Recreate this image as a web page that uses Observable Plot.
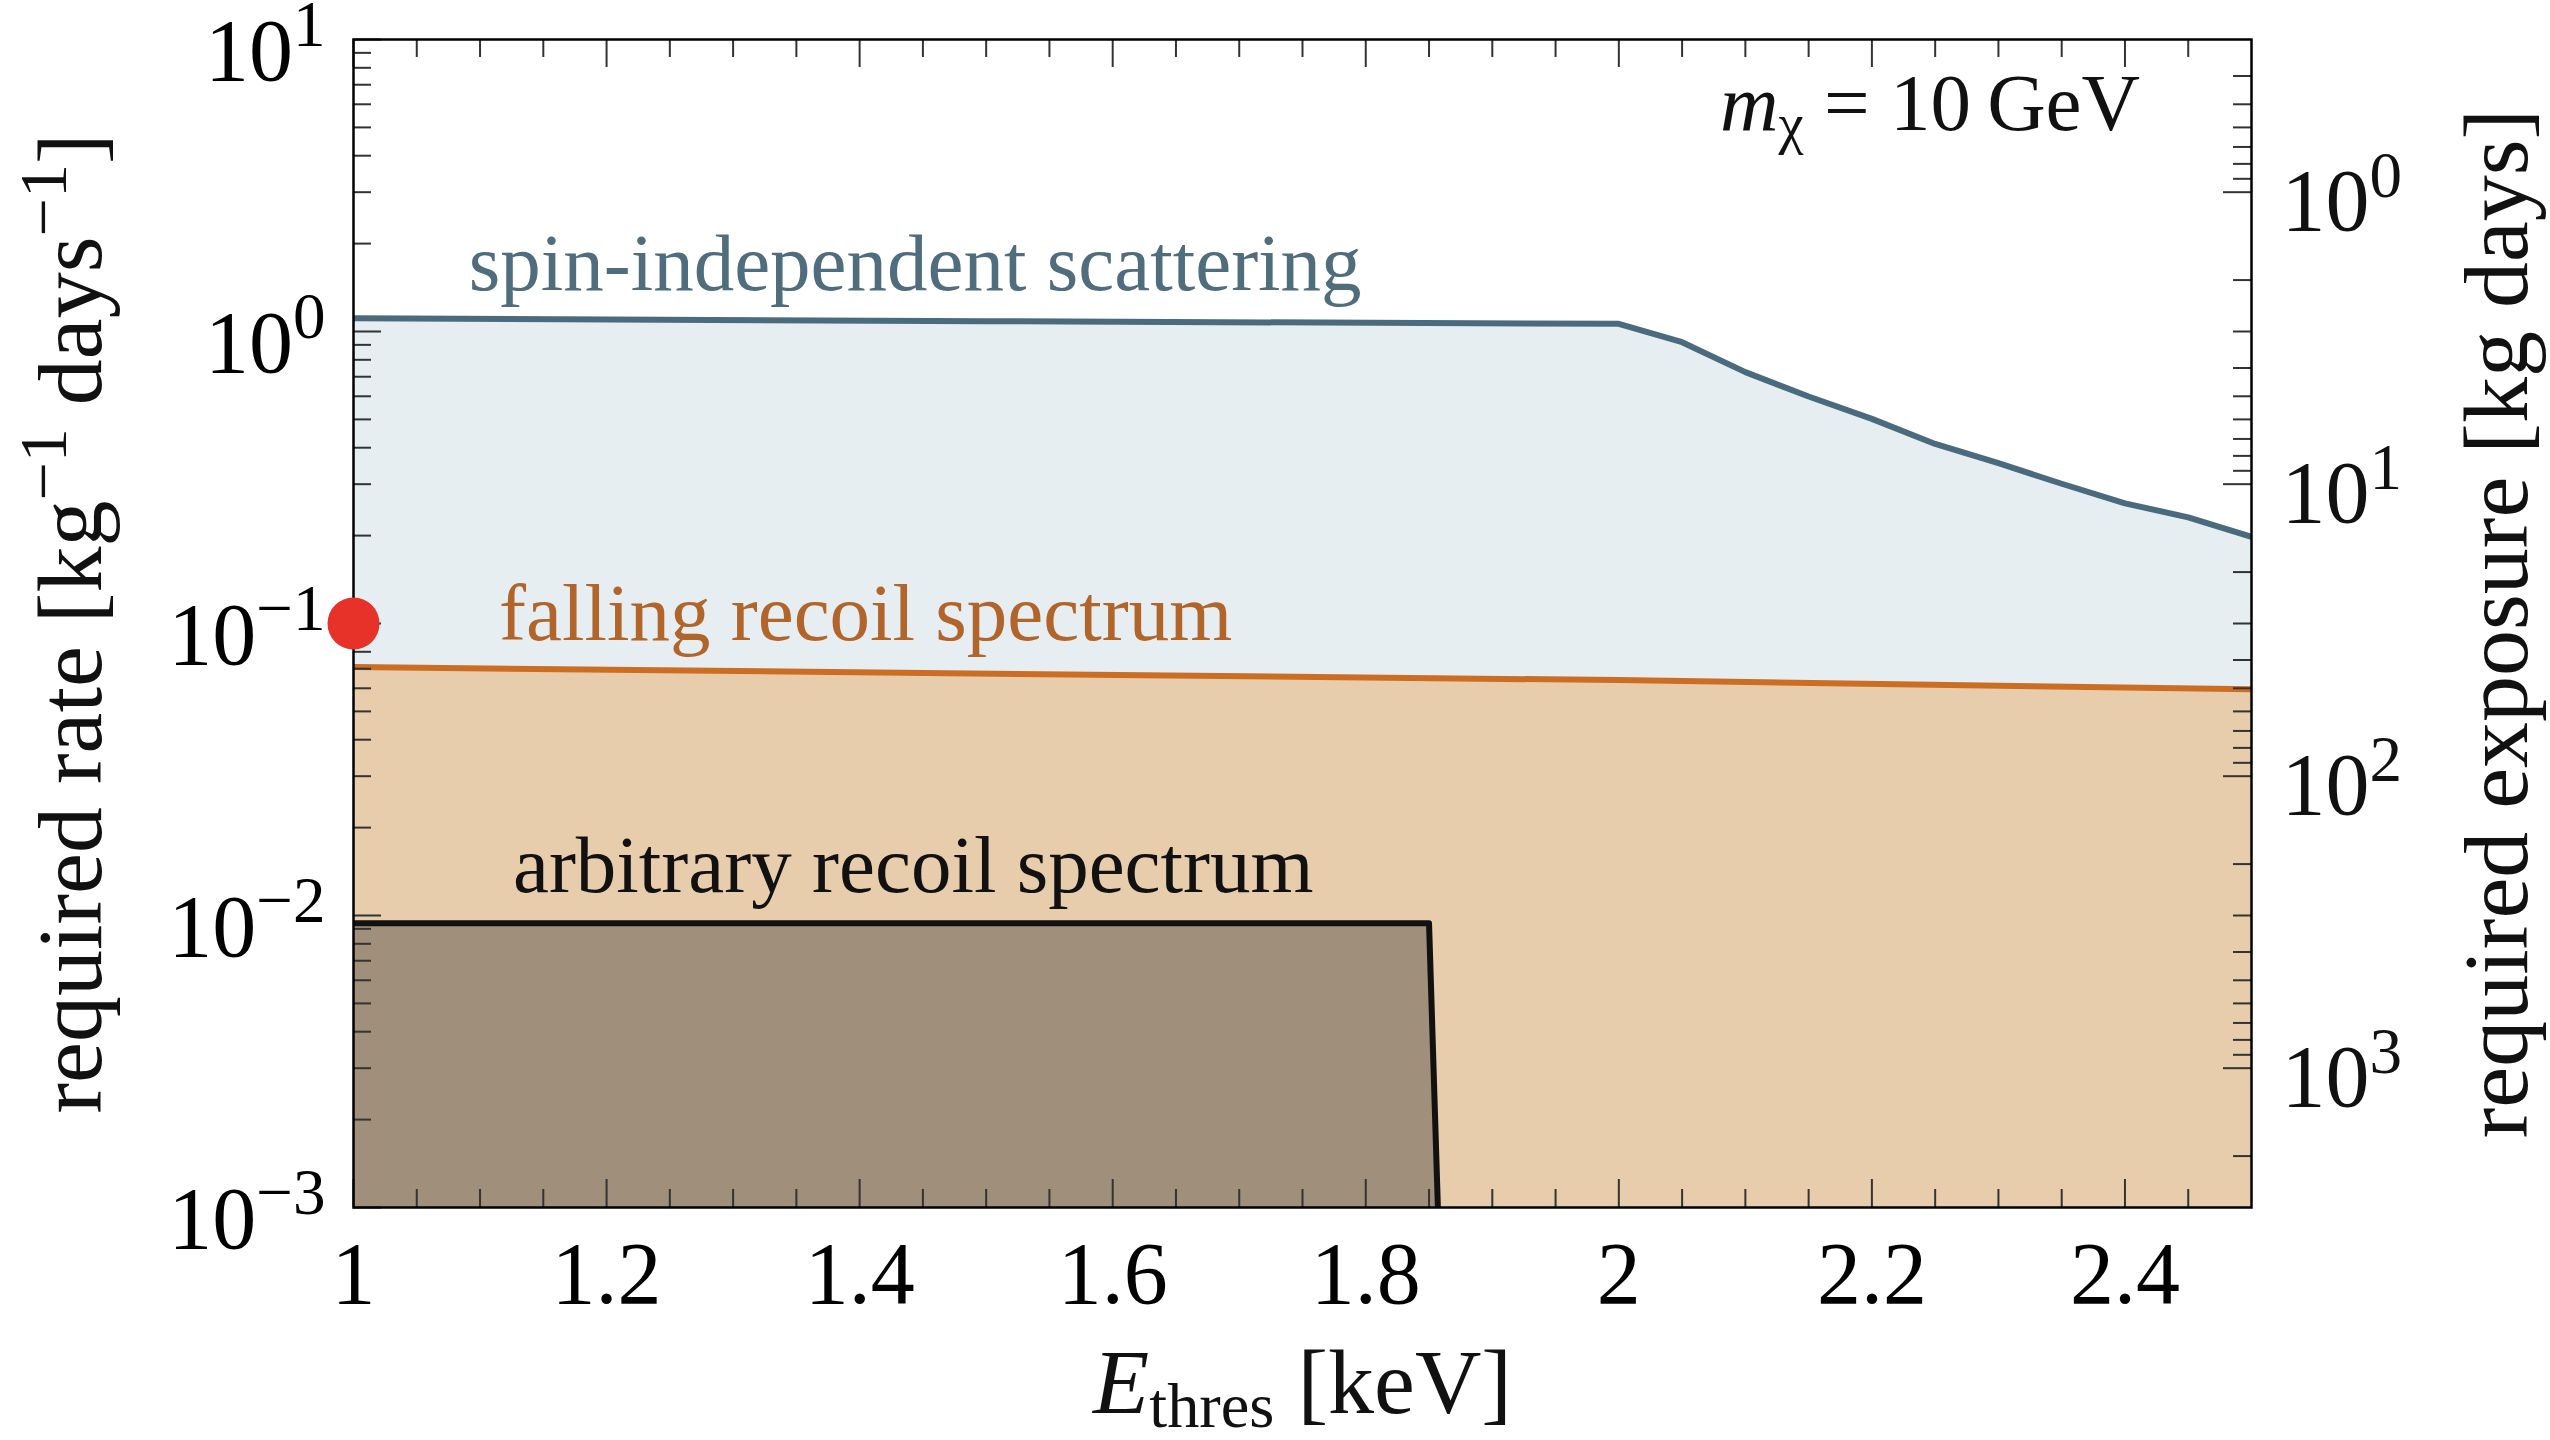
<!DOCTYPE html>
<html>
<head>
<meta charset="utf-8">
<script src="https://cdn.jsdelivr.net/npm/d3@7"></script>
<script src="https://cdn.jsdelivr.net/npm/@observablehq/plot@0.6"></script>
<style>
  html, body { margin: 0; padding: 0; background: white; }
  svg { display: block; }
</style>
</head>
<body>
<script>
// ---- data ----
// spin-independent scattering: required rate vs threshold energy
const siE    = [1.0, 1.5, 2.0, 2.05, 2.1, 2.15, 2.2, 2.25, 2.3, 2.35, 2.4, 2.45, 2.5];
const siRate = [1.11, 1.085, 1.062, 0.919, 0.726, 0.599, 0.502, 0.412, 0.354, 0.301, 0.258, 0.231, 0.198];
// falling recoil spectrum
const fallE    = [1.0, 2.0, 2.5];
const fallRate = [0.0709, 0.0640, 0.0595];
// arbitrary recoil spectrum
const arbE    = [1.0, 1.85, 1.857];
const arbRate = [0.0094, 0.0094, 0.001];
// highlighted point
const dotE = [1.0];
const dotRate = [0.1];
// events required: exposure = eventsRequired / rate
const eventsRequired = 3;

// tick values
const xTicks = [1, 1.2, 1.4, 1.6, 1.8, 2, 2.2, 2.4];
const xMinorTicks = [1.05, 1.1, 1.15, 1.25, 1.3, 1.35, 1.45, 1.5, 1.55, 1.65, 1.7, 1.75, 1.85, 1.9, 1.95, 2.05, 2.1, 2.15, 2.25, 2.3, 2.35, 2.45];
const yDecades = [1e-3, 1e-2, 1e-1, 1, 10];
const yMinorTicks = [1e-3, 1e-2, 1e-1, 1].flatMap(d => [2,3,4,5,6,7,8,9].map(m => m * d));
const expDecades = [1, 10, 100, 1000];
const expMinorTicks = [0.4,0.5,0.6,0.7,0.8,0.9, 2,3,4,5,6,7,8,9, 20,30,40,50,60,70,80,90, 200,300,400,500,600,700,800,900, 2000];

// text
const annText = ["spin-independent scattering", "falling recoil spectrum", "arbitrary recoil spectrum", "*m*_{χ} = 10\u2009GeV"];
const annE    = [1.091, 1.115, 1.126, 2.080];
const annRate = [1.39, 0.0881, 0.01208, 4.88];
const xTitle = "*E*_{thres} [keV]";
const yTitle = "required rate [kg^{−1} days^{−1}]";
const y2Title = "required exposure [kg days]";

// ---- layout ----
const W = 2550, H = 1440;
const mL = 353, mR = 299, mT = 39, mB = 233;
const fw = W - mL - mR, fh = H - mT - mB;

const pow10 = e => `10^{${e < 0 ? "−" : ""}${Math.abs(e)}}`;
const rows = (xs, ys) => xs.map((x, i) => ({x, y: ys[i]}));

const si = rows(siE, siRate), fall = rows(fallE, fallRate), arb = rows(arbE, arbRate);
const tickColor = "#333";

const plot = Plot.plot({
  width: W, height: H,
  marginLeft: mL, marginRight: mR, marginTop: mT, marginBottom: mB,
  style: {fontFamily: "'Liberation Serif', 'DejaVu Serif', serif", fontSize: "88px", background: "white", color: "black"},
  x: {domain: [1, 2.5]},
  y: {type: "log", domain: [1e-3, 10]},
  marks: [
    Plot.areaY(si, {x: "x", y1: 1e-3, y2: "y", fill: "#e6eef2", clip: true}),
    Plot.areaY(fall, {x: "x", y1: 1e-3, y2: "y", fill: "#e8cdac", clip: true}),
    Plot.areaY(arb, {x: "x", y1: 1e-3, y2: "y", fill: "#a08f7a", clip: true}),
    Plot.line(si, {x: "x", y: "y", stroke: "#4a6b7d", strokeWidth: 6, clip: true}),
    Plot.line(fall, {x: "x", y: "y", stroke: "#cc6d24", strokeWidth: 6, clip: true}),
    Plot.line(arb, {x: "x", y: "y", stroke: "#111", strokeWidth: 6, clip: true}),
    // inward ticks: bottom & top
    Plot.tickX(xTicks, {x: d => d, insetTop: fh - 28, stroke: tickColor, strokeWidth: 2}),
    Plot.tickX(xMinorTicks, {x: d => d, insetTop: fh - 18, stroke: tickColor, strokeWidth: 2}),
    Plot.tickX(xTicks, {x: d => d, insetBottom: fh - 28, stroke: tickColor, strokeWidth: 2}),
    Plot.tickX(xMinorTicks, {x: d => d, insetBottom: fh - 18, stroke: tickColor, strokeWidth: 2}),
    // left ticks
    Plot.tickY(yDecades, {y: d => d, insetRight: fw - 28, stroke: tickColor, strokeWidth: 2}),
    Plot.tickY(yMinorTicks, {y: d => d, insetRight: fw - 18, stroke: tickColor, strokeWidth: 2}),
    // right ticks (exposure)
    Plot.tickY(expDecades, {y: d => eventsRequired / d, insetLeft: fw - 28, stroke: tickColor, strokeWidth: 2}),
    Plot.tickY(expMinorTicks, {y: d => eventsRequired / d, insetLeft: fw - 18, stroke: tickColor, strokeWidth: 2}),
    // axes labels
    Plot.axisX({ticks: xTicks, tickSize: 0, tickPadding: 33, label: null, tickFormat: d => String(+d.toFixed(1))}),
    Plot.axisY({ticks: yDecades, tickSize: 0, tickPadding: 28, label: null, dy: 12,
      tickFormat: d => pow10(Math.round(Math.log10(d)))}),
    // right axis labels (exposure = eventsRequired / rate)
    Plot.text(expDecades, {y: d => eventsRequired / d, frameAnchor: "right", dx: 30, dy: 10,
      textAnchor: "start", lineAnchor: "middle", fill: "#111",
      text: d => pow10(Math.round(Math.log10(d)))}),
    Plot.frame({stroke: "black", strokeWidth: 2.5}),
    Plot.dot(rows(dotE, dotRate), {x: "x", y: "y", r: 26, fill: "#e63228"}),
    // annotations
    Plot.text([0], {x: annE[0], y: annRate[0], text: () => annText[0], textAnchor: "start", lineAnchor: "bottom", fontSize: 81, fill: "#4f6d7c"}),
    Plot.text([0], {x: annE[1], y: annRate[1], text: () => annText[1], textAnchor: "start", lineAnchor: "bottom", fontSize: 81, fill: "#b1652b"}),
    Plot.text([0], {x: annE[2], y: annRate[2], text: () => annText[2], textAnchor: "start", lineAnchor: "bottom", fontSize: 81, fill: "#111"}),
    Plot.text([0], {x: annE[3], y: annRate[3], text: () => annText[3], textAnchor: "start", lineAnchor: "bottom", fontSize: 81, fill: "#111"}),
    // titles
    Plot.text([xTitle], {frameAnchor: "bottom", dy: 176, textAnchor: "middle", lineAnchor: "middle", fontSize: 92, fill: "#111"}),
    Plot.text([yTitle], {frameAnchor: "left", dx: -282, rotate: -90, textAnchor: "middle", lineAnchor: "middle", fontSize: 92, fill: "#111"}),
    Plot.text([y2Title], {frameAnchor: "right", dx: 246, rotate: -90, textAnchor: "middle", lineAnchor: "middle", fontSize: 92, fill: "#111"})
  ]
});

document.body.appendChild(plot);

// rich text: ^{sup}, _{sub}, *italic*
const NS = "http://www.w3.org/2000/svg";
function richify(el) {
  const str = el.textContent;
  const fs = parseFloat(getComputedStyle(el).fontSize) || 88;
  const parts = str.split(/(\^\{[^}]*\}|_\{[^}]*\}|\*[^*]*\*)/).filter(s => s);
  el.textContent = "";
  let shift = 0;
  for (const p of parts) {
    const t = document.createElementNS(NS, "tspan");
    let txt = p, target = 0, size = null, italic = false;
    if (p.startsWith("^{")) { txt = p.slice(2, -1); target = -0.38 * fs; size = 0.74 * fs; }
    else if (p.startsWith("_{")) { txt = p.slice(2, -1); target = 0.15 * fs; size = 0.7 * fs; }
    else if (p.startsWith("*")) { txt = p.slice(1, -1); italic = true; }
    const dy = target - shift;
    if (dy) t.setAttribute("dy", dy.toFixed(1));
    shift = target;
    if (size) t.setAttribute("font-size", size.toFixed(1));
    if (italic) t.setAttribute("font-style", "italic");
    t.textContent = txt;
    el.appendChild(t);
  }
}
plot.querySelectorAll("text").forEach(t => {
  if (/\^\{|_\{|\*/.test(t.textContent)) richify(t);
});
</script>
</body>
</html>
